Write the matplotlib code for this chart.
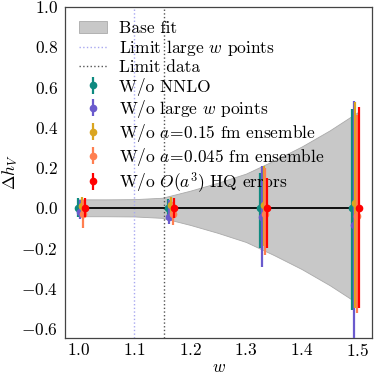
import matplotlib
matplotlib.use("Agg")
import matplotlib.pyplot as plt
import numpy as np

plt.rcParams["font.family"] = "cmr10"
plt.rcParams["mathtext.fontset"] = "cm"
plt.rcParams["axes.formatter.use_mathtext"] = True
plt.rcParams["font.size"] = 12.5

# Base fit band (half-width around zero)
band_w = [1.0, 1.05, 1.1, 1.15, 1.2, 1.25, 1.3, 1.35, 1.4, 1.45, 1.5]
band_half = [0.042, 0.042, 0.043, 0.05, 0.085, 0.125, 0.17, 0.235, 0.305, 0.385, 0.475]

# w points and per-series offsets
w_points = [1.0, 1.16, 1.326, 1.49]
offsets = [0.0, 0.003, 0.006, 0.009, 0.012]

labels = [
    "W/o NNLO",
    "W/o large $w$ points",
    "W/o $a\\!=\\!0.15$ fm ensemble",
    "W/o $a\\!=\\!0.045$ fm ensemble",
    "W/o $O(a^3)$ HQ errors",
]
colors = ["#0e8a80", "#6a5acd", "#daa520", "#ff7f50", "#ff0000"]

centers = [
    [0.0, 0.0, 0.0, 0.0],
    [-0.02, -0.046, -0.046, -0.085],
    [0.011, 0.016, 0.016, 0.025],
    [-0.03, -0.03, -0.03, -0.043],
    [0.0, 0.0, 0.0, 0.0],
]
upper = [
    [0.049, 0.044, 0.175, 0.49],
    [0.04, 0.04, 0.21, 0.53],
    [0.053, 0.056, 0.21, 0.525],
    [0.04, 0.03, 0.2, 0.46],
    [0.049, 0.05, 0.15, 0.50],
]
lower = [
    [-0.046, -0.05, -0.20, -0.506],
    [-0.054, -0.08, -0.296, -0.70],
    [-0.03, -0.03, -0.19, -0.50],
    [-0.098, -0.087, -0.233, -0.525],
    [-0.046, -0.05, -0.20, -0.497],
]

limit_large_w = 1.1
limit_data = 1.153

fig = plt.figure(figsize=(3.74, 3.74), dpi=100)
ax = fig.add_axes([0.174, 0.096, 0.821, 0.886])

bw = np.array(band_w)
bh = np.array(band_half)
ax.fill_between(bw, -bh, bh, facecolor="#c8c8c8", edgecolor="#aaaaaa",
                linewidth=0.6, label="Base fit", zorder=1)
ax.axvline(limit_large_w, color="#a8a8f0", ls=":", lw=1.0,
           label="Limit large $w$ points", zorder=2)
ax.axvline(limit_data, color="#555555", ls=":", lw=1.0,
           label="Limit data", zorder=2)
ax.plot([w_points[0], 1.5], [0, 0], color="black", lw=1.3, zorder=3)

for i, (lab, col) in enumerate(zip(labels, colors)):
    x = np.array(w_points) + offsets[i]
    y = np.array(centers[i])
    yerr = [y - np.array(lower[i]), np.array(upper[i]) - y]
    ax.errorbar(x, y, yerr=yerr, fmt="o", color=col, ms=4.5, elinewidth=1.6,
                capsize=0, label=lab, zorder=4 + i)

ax.set_xlim(0.976, 1.526)
ax.set_ylim(-0.648, 1.0)
ax.set_xticks([1.0, 1.1, 1.2, 1.3, 1.4, 1.5])
ax.set_yticks([-0.6, -0.4, -0.2, 0.0, 0.2, 0.4, 0.6, 0.8, 1.0])
ax.tick_params(length=0, labelsize=12.5)
ax.tick_params(axis="x", pad=3)
ax.tick_params(axis="y", pad=5)
for spine in ax.spines.values():
    spine.set_color("#444444")
    spine.set_linewidth(0.9)

ax.set_xlabel("$w$", labelpad=0)
ax.set_ylabel("$\\Delta h_V$", labelpad=1)
ax.legend(loc="upper left", frameon=False, fontsize=12.5, labelspacing=0.12,
          handlelength=1.6, handletextpad=0.7, borderaxespad=0.4)

fig.savefig("out.png", dpi=100)
